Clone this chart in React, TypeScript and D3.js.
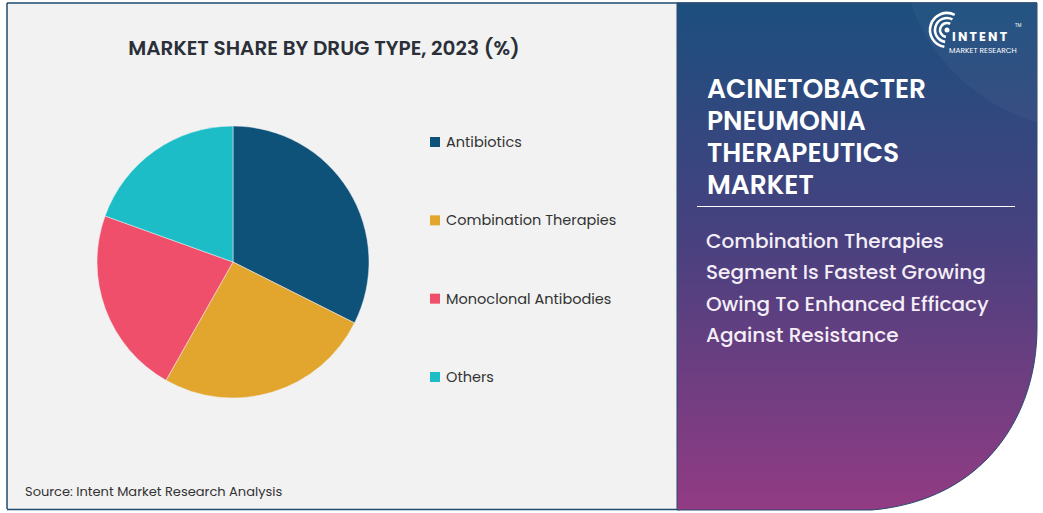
import React from "react";
import * as d3 from "d3";

// market share by drug type, 2023 (%)
const categories = ["Antibiotics", "Combination Therapies", "Monoclonal Antibodies", "Others"];
const shares = [32.4, 25.8, 22.3, 19.5];
const colors = ["#0e527a", "#e2a52e", "#ef4f6a", "#1dbdc8"];

const titleLines = ["ACINETOBACTER", "PNEUMONIA", "THERAPEUTICS", "MARKET"];
const subtitleLines = [
  "Combination Therapies",
  "Segment Is Fastest Growing",
  "Owing To Enhanced Efficacy",
  "Against Resistance",
];

const W = 1043;
const H = 513;
const font = "Poppins, 'Open Sans', 'Noto Sans', sans-serif";

export default function App() {
  const cx = 233;
  const cy = 262;
  const radius = 136;

  const pie = d3
    .pie<number>()
    .sort(null)
    .value((d) => d);
  const arcs = pie(shares);
  const arc = d3.arc<d3.PieArcDatum<number>>().innerRadius(0).outerRadius(radius);

  // legend rows
  const legendY = d3.scalePoint<string>().domain(categories).range([142, 377]);

  // right panel lines
  const titleY = d3.scaleLinear().domain([0, titleLines.length - 1]).range([98, 194]);
  const subY = d3.scaleLinear().domain([0, subtitleLines.length - 1]).range([248, 342]);

  const panelPath = "M677,3 H1037 V328 C1037,415 985,500 872,510 H677 Z";

  return (
    <svg
      width={W}
      height={H}
      viewBox={`0 0 ${W} ${H}`}
      style={{ position: "fixed", left: 0, top: 0, display: "block", background: "#fff" }}
    >
      <defs>
        <linearGradient id="panelGrad" x1="0" y1="0" x2="0" y2="1">
          <stop offset="0%" stopColor="#1c4f7e" />
          <stop offset="45%" stopColor="#46417f" />
          <stop offset="100%" stopColor="#923b83" />
        </linearGradient>
        <clipPath id="panelClip">
          <path d={panelPath} />
        </clipPath>
      </defs>

      {/* left panel */}
      <rect x={7} y={3} width={680} height={506} fill="#f2f2f2" />
      <line x1={7} y1={3} x2={7} y2={509} stroke="#1d4a6e" strokeWidth={1.5} />
      <line x1={7} y1={3} x2={1037} y2={3} stroke="#1d4a6e" strokeWidth={1.5} />
      <line x1={7} y1={509.5} x2={680} y2={509.5} stroke="#1d4a6e" strokeWidth={1.5} />

      <text
        x={324}
        y={55}
        textAnchor="middle"
        fontFamily={font}
        fontWeight={600}
        fontSize={20}
        fill="#2b2f38"
      >
        MARKET SHARE BY DRUG TYPE, 2023 (%)
      </text>

      <g transform={`translate(${cx},${cy})`}>
        {arcs.map((a, i) => (
          <path key={categories[i]} d={arc(a) || ""} fill={colors[i]} stroke="#f2f2f2" strokeWidth={0.5} />
        ))}
      </g>

      <g>
        {categories.map((c, i) => (
          <g key={c} transform={`translate(430,${legendY(c)})`}>
            <rect x={0} y={-5} width={10} height={10} fill={colors[i]} />
            <text x={16} y={5} fontFamily={font} fontSize={14.5} fill="#333">
              {c}
            </text>
          </g>
        ))}
      </g>

      <text x={25} y={496} fontFamily={font} fontSize={13} fill="#333">
        Source: Intent Market Research Analysis
      </text>

      {/* right panel */}
      <path d={panelPath} fill="url(#panelGrad)" stroke="#2a4a70" strokeWidth={1} />
      <g clipPath="url(#panelClip)">
        <circle cx={1090} cy={-60} r={190} fill="#ffffff" opacity={0.035} />
      </g>

      {/* logo */}
      <g fill="none" stroke="#fff" strokeLinecap="round">
        {[7, 12, 17].map((r) => (
          <path
            key={r}
            d={d3.arc()({ innerRadius: r, outerRadius: r, startAngle: -Math.PI * 0.95, endAngle: Math.PI * 0.15 }) || ""}
            transform="translate(947,30)"
            strokeWidth={2.6}
          />
        ))}
      </g>
      <circle cx={947} cy={30} r={2.5} fill="#fff" />
      <text x={952} y={41} fontFamily={font} fontWeight={700} fontSize={12.5} letterSpacing={2.2} fill="#fff">
        INTENT
      </text>
      <text x={1015} y={27} fontFamily={font} fontSize={4.5} fill="#fff">
        TM
      </text>
      <text x={949} y={53} fontFamily={font} fontSize={7.5} fill="#fff">
        MARKET RESEARCH
      </text>

      {titleLines.map((t, i) => (
        <text
          key={t}
          x={707}
          y={titleY(i)}
          fontFamily={font}
          fontWeight={600}
          fontSize={26.5}
          fill="#fff"
        >
          {t}
        </text>
      ))}
      <line x1={697} y1={206.5} x2={1015} y2={206.5} stroke="#fff" strokeWidth={1} />
      {subtitleLines.map((t, i) => (
        <text key={t} x={706} y={subY(i)} fontFamily={font} fontWeight={500} fontSize={20} fill="#f4eef6">
          {t}
        </text>
      ))}
    </svg>
  );
}
